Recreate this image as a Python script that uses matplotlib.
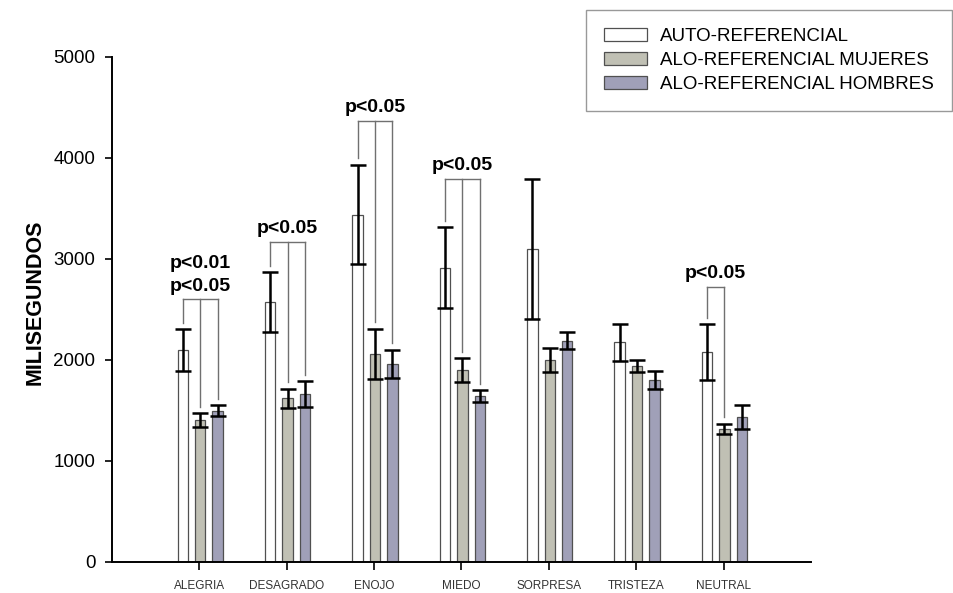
import matplotlib
matplotlib.use('Agg')
import matplotlib.pyplot as plt
import numpy as np

plt.rcParams['font.family'] = ['Liberation Sans', 'DejaVu Sans']

# Tiempos de reacción medios (ms) y error por emoción y condición
emociones = ['ALEGRIA', 'DESAGRADO', 'ENOJO', 'MIEDO', 'SORPRESA', 'TRISTEZA', 'NEUTRAL']
series = ['AUTO-REFERENCIAL', 'ALO-REFERENCIAL MUJERES', 'ALO-REFERENCIAL HOMBRES']

auto_media = [2100, 2575, 3440, 2915, 3100, 2175, 2080]
auto_err = [205, 295, 490, 400, 695, 182, 275]
mujeres_media = [1405, 1620, 2060, 1898, 2000, 1940, 1320]
mujeres_err = [66, 96, 250, 120, 120, 61, 50]
hombres_media = [1498, 1662, 1963, 1640, 2190, 1805, 1435]
hombres_err = [53, 125, 140, 58, 86, 88, 122]

# Comparaciones significativas: emoción, series unidas, etiquetas y altura del corchete
sig_emocion = [0, 1, 2, 3, 6]
sig_series = [[0, 1, 2], [0, 1, 2], [0, 1, 2], [0, 1, 2], [0, 1]]
sig_textos = [['p<0.05', 'p<0.01'], ['p<0.05'], ['p<0.05'], ['p<0.05'], ['p<0.05']]
sig_altura = [2600, 3170, 4370, 3795, 2725]

medias = [auto_media, mujeres_media, hombres_media]
errores = [auto_err, mujeres_err, hombres_err]
colores = ['#ffffff', '#c0c0b4', '#a0a0b8']
desplaz = [-0.19, 0.01, 0.21]
ancho = 0.12

fig = plt.figure(figsize=(9.54, 5.93), dpi=100)
ax = fig.add_axes([0.1174, 0.0523, 0.7327, 0.8516])

x = np.arange(len(emociones))
for i in range(3):
    ax.bar(x + desplaz[i], medias[i], width=ancho, color=colores[i],
           edgecolor='#505050', linewidth=0.9, label=series[i], zorder=2)
    ax.errorbar(x + desplaz[i], medias[i], yerr=errores[i], fmt='none',
                ecolor='black', elinewidth=1.8, capsize=5.5, capthick=1.8, zorder=3)

# corchetes de significación
for k, e in enumerate(sig_emocion):
    nivel = sig_altura[k]
    xs = [e + desplaz[s] for s in sig_series[k]]
    for s in sig_series[k]:
        base = medias[s][e] + errores[s][e] + 65
        ax.plot([e + desplaz[s]] * 2, [base, nivel], color='#707070', lw=1, zorder=4)
    ax.plot([xs[0], xs[-1]], [nivel, nivel], color='#707070', lw=1, zorder=4)
    xc = (xs[0] + xs[-1]) / 2
    for j, t in enumerate(sig_textos[k]):
        ax.annotate(t, (xc, nivel), xytext=(0, 9.5 + 16.3 * j), textcoords='offset points',
                    ha='center', va='center', fontsize=14, fontweight='bold')

ax.set_xlim(-1, 7)
ax.set_ylim(0, 5000)
ax.set_yticks([0, 1000, 2000, 3000, 4000, 5000])
ax.set_xticks(x)
ax.set_xticklabels(emociones, fontsize=8.5, color='#333333')
ax.tick_params(axis='y', labelsize=13.5, length=5, width=1.2, pad=7, direction='out')
ax.tick_params(axis='x', length=6, width=1.2, pad=7, direction='out')

for lado in ['top', 'right']:
    ax.spines[lado].set_visible(False)
for lado in ['left', 'bottom']:
    ax.spines[lado].set_linewidth(1.4)

ax.set_ylabel('MILISEGUNDOS', fontsize=15.5, fontweight='bold')
ax.yaxis.set_label_coords(-0.095, 0.515)

leg = fig.legend(loc='upper right', bbox_to_anchor=(952 / 954, 1 - 10 / 593),
                 fontsize=13.5, frameon=True, fancybox=False, edgecolor='#808080',
                 handlelength=2.3, handleheight=0.7, handletextpad=0.7,
                 labelspacing=0.37, borderpad=0.95, borderaxespad=0)
leg.get_frame().set_linewidth(1)

fig.savefig('out.png', dpi=100)
